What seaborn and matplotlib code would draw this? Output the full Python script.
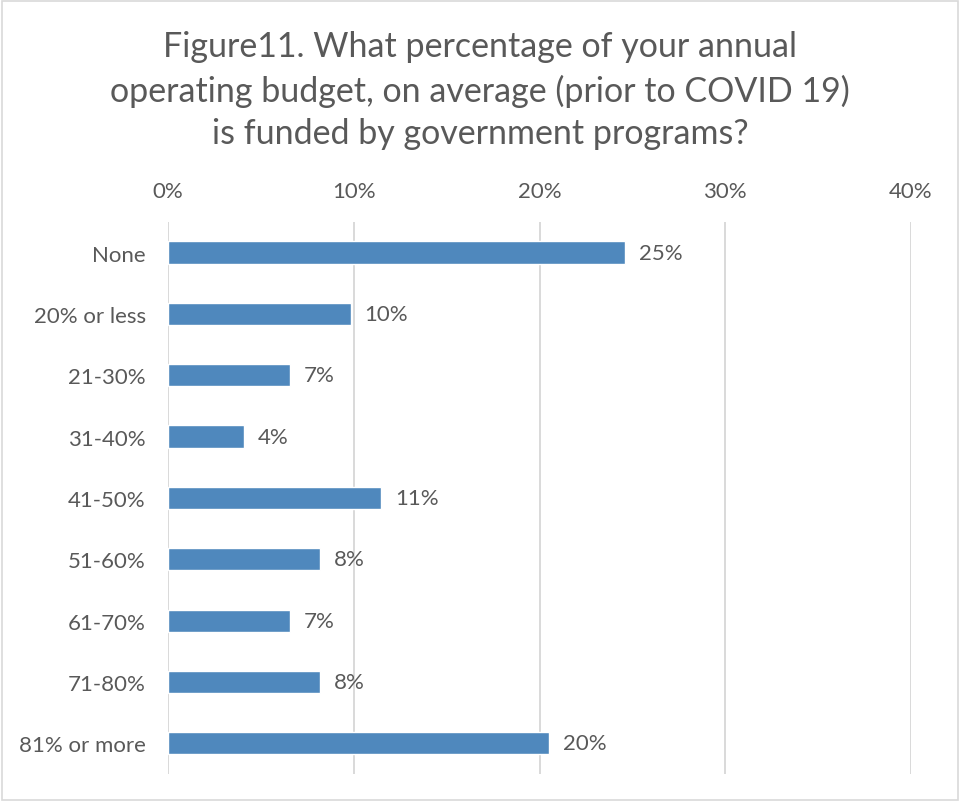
import matplotlib
matplotlib.use("Agg")
import matplotlib.pyplot as plt
import seaborn as sns
import pandas as pd
from matplotlib.patches import Rectangle
from matplotlib.ticker import FuncFormatter

# Share of respondents (%) per funding bracket
categories = ["None", "20% or less", "21-30%", "31-40%", "41-50%",
              "51-60%", "61-70%", "71-80%", "81% or more"]
shares = [24.59, 9.84, 6.56, 4.10, 11.48, 8.20, 6.56, 8.20, 20.49]
x_ticks = [0, 10, 20, 30, 40]

title = ("Figure11. What percentage of your annual\n"
         "operating budget, on average (prior to COVID 19)\n"
         "is funded by government programs?")

sns.set_theme(style="white")
plt.rcParams["font.family"] = ["Lato", "DejaVu Sans"]

text_grey = "#595959"
bar_blue = "#4F88BD"
grid_grey = "#D9D9D9"

df = pd.DataFrame({"bracket": categories, "share": shares})

fig = plt.figure(figsize=(9.6, 8.03), dpi=100)
ax = fig.add_axes([0.175, 0.035, 0.774, 0.6875])

sns.barplot(data=df, x="share", y="bracket", orient="h", color=bar_blue,
            saturation=1, width=0.36, ax=ax)

ax.set_xlim(0, 40)
ax.set_xticks(x_ticks)
ax.xaxis.set_major_formatter(FuncFormatter(lambda v, p: f"{v:.0f}%"))
ax.xaxis.tick_top()
ax.tick_params(axis="x", length=0, pad=15, labelsize=16, labelcolor=text_grey)
ax.tick_params(axis="y", length=0, pad=16, labelsize=16, labelcolor=text_grey)
ax.set_xlabel("")
ax.set_ylabel("")
ax.grid(axis="x", color=grid_grey, linewidth=1.4)
ax.set_axisbelow(True)
for s in ax.spines.values():
    s.set_visible(False)

ax.bar_label(ax.containers[0], labels=[f"{v:.0f}%" for v in shares],
             padding=10, fontsize=16, color=text_grey)

fig.text(0.5, 0.887, title, ha="center", va="center", fontsize=24.5,
         color=text_grey, linespacing=1.42)

fig.patches.append(Rectangle((0.002, 0.002), 0.996, 0.995, transform=fig.transFigure,
                             fill=False, edgecolor=grid_grey, linewidth=1.2))

fig.savefig("out.png", dpi=100)
